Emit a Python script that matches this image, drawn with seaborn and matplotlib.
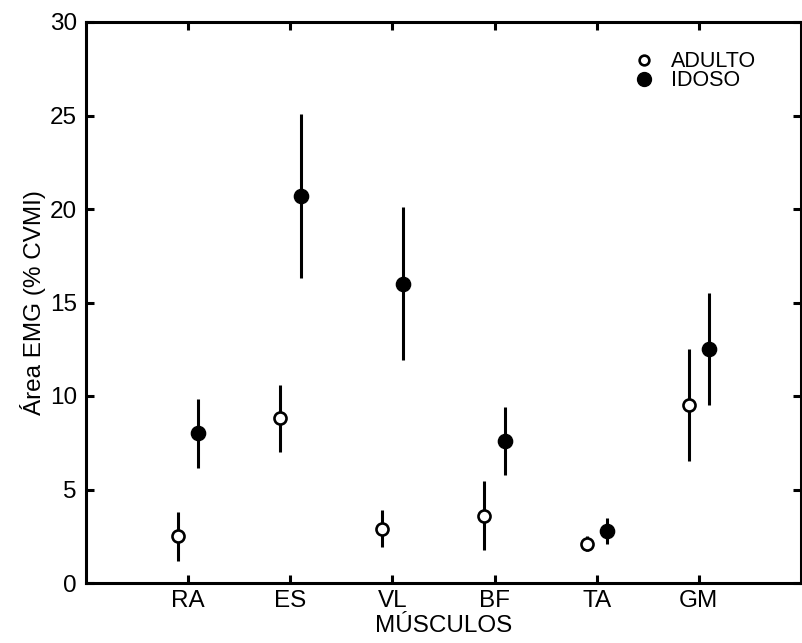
import matplotlib
matplotlib.use("Agg")
import matplotlib.pyplot as plt
import seaborn as sns
import pandas as pd
import numpy as np
from matplotlib.lines import Line2D

muscles = ["RA", "ES", "VL", "BF", "TA", "GM"]
adulto_mean = [2.5, 8.8, 2.9, 3.6, 2.1, 9.5]
adulto_err = [1.3, 1.8, 1.0, 1.85, 0.4, 3.0]
idoso_mean = [8.0, 20.7, 16.0, 7.6, 2.8, 12.5]
idoso_err = [1.85, 4.4, 4.1, 1.8, 0.7, 3.0]
groups = ["ADULTO", "IDOSO"]

sns.set_style("ticks")
plt.rcParams['font.family'] = ['Liberation Sans', 'DejaVu Sans']
plt.rcParams['text.color'] = 'black'
plt.rcParams['axes.labelcolor'] = 'black'
plt.rcParams['xtick.color'] = 'black'
plt.rcParams['ytick.color'] = 'black'
plt.rcParams['axes.edgecolor'] = 'black'

fig = plt.figure(figsize=(8.02, 6.43), dpi=100)
ax = fig.add_axes([86 / 802, 1 - 583 / 643, (801 - 86) / 802, (583 - 22) / 643])

pos = np.arange(1, len(muscles) + 1)
off = 0.1
df = pd.DataFrame({
    "x": np.concatenate([pos - off, pos + off]),
    "y": adulto_mean + idoso_mean,
    "err": adulto_err + idoso_err,
    "grupo": [groups[0]] * len(muscles) + [groups[1]] * len(muscles),
})

for g in groups:
    d = df[df.grupo == g]
    ax.errorbar(d.x, d.y, yerr=d.err, fmt="none", ecolor="black",
                elinewidth=2.2, capsize=0, zorder=2)

sns.scatterplot(data=df[df.grupo == "ADULTO"], x="x", y="y", color="white",
                edgecolor="black", linewidth=1.9, s=75, ax=ax, zorder=3,
                legend=False)
sns.scatterplot(data=df[df.grupo == "IDOSO"], x="x", y="y", color="black",
                edgecolor="black", linewidth=1.0, s=105, ax=ax, zorder=3,
                legend=False)

ax.set_xlim(0, 7)
ax.set_ylim(0, 30)
ax.set_xticks(pos)
ax.set_xticklabels(muscles)
ax.set_yticks(range(0, 31, 5))
ax.tick_params(axis="both", direction="in", length=6, width=2.2,
               labelsize=17.5, right=True, top=True)
ax.tick_params(axis="x", pad=5)
ax.tick_params(axis="y", pad=6.5)
for s in ax.spines.values():
    s.set_linewidth(2.2)
    s.set_visible(True)
    s.set_color("black")
ax.set_xlabel("MÚSCULOS", fontsize=17.5, labelpad=2)
ax.set_ylabel("Área EMG (% CVMI)", fontsize=17.5, labelpad=3)

h = [Line2D([], [], marker="o", ls="none", mfc="white", mec="black", mew=1.9, ms=7),
     Line2D([], [], marker="o", ls="none", mfc="black", mec="black", mew=1, ms=10)]
ax.legend(h, groups, loc="upper left", bbox_to_anchor=(0.768, 0.948), frameon=False,
          fontsize=15.5, handletextpad=0.85, labelspacing=-0.08, handlelength=0.8,
          borderpad=0, borderaxespad=0)

fig.savefig("out.png", dpi=100)
